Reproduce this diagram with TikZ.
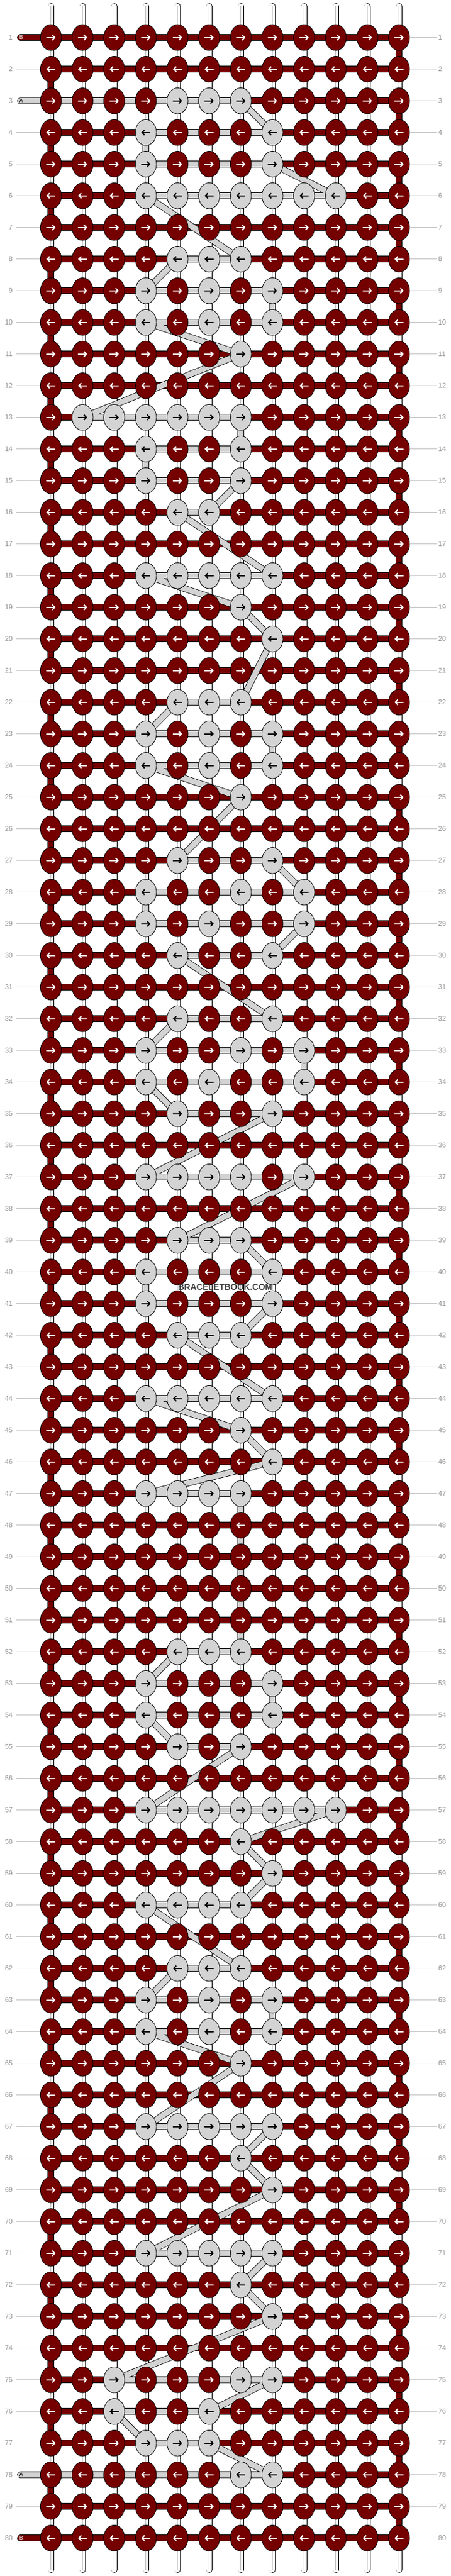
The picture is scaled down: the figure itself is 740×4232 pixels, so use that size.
\documentclass[tikz,border=0pt]{standalone}
\usepackage{fontspec}
\setmainfont{Liberation Sans}
\usetikzlibrary{shapes.geometric,arrows.meta}
\definecolor{maroonc}{RGB}{116,0,0}
\definecolor{grayc}{RGB}{211,211,211}
\definecolor{labgray}{RGB}{150,150,150}
\definecolor{linegray}{RGB}{195,195,195}
\definecolor{tubegray}{RGB}{185,185,185}
\definecolor{wmgray}{RGB}{60,60,60}
\pgfdeclarelayer{back}
\pgfsetlayers{back,main}
\tikzset{
 knotm/.style={ellipse, draw=black, line width=0.8pt, fill=maroonc, minimum width=34.6pt, minimum height=42.6pt, inner sep=0pt},
 knotg/.style={knotm, fill=grayc},
 bstr/.style={draw=black, line width=0.85pt, double=maroonc, double distance=9pt, line join=round, line cap=round},
 astr/.style={draw=black, line width=0.85pt, double=grayc, double distance=9pt, line join=round, line cap=round},
 tube/.style={draw=black, line width=0.85pt, double=white, double distance=8.6pt, line cap=round},
 tubemid/.style={draw=tubegray, line width=0.8pt},
 lbl/.style={font=\fontsize{11.5}{12}\selectfont, text=labgray, inner sep=0pt},
 lblline/.style={draw=linegray, line width=0.9pt},
 arr/.style={line width=2pt, -{Straight Barb[length=4pt,width=8.5pt]}},
 endlbl/.style={font=\fontsize{9}{9}\selectfont, inner sep=0pt},
}
\begin{document}
\begin{tikzpicture}[x=1pt,y=-1pt]
\useasboundingbox (0,0) rectangle (740,4232);
% gray knots
\foreach \r/\cs in {3/{5,6,7},4/{4,8},5/{4,8},6/{4,5,6,7,8,9,10},8/{5,6,7},9/{4,6,8},10/{4,6,8},11/{7},13/{2,3,4,5,6,7},14/{4,7},15/{4,7},16/{5,6},18/{4,5,6,7,8},19/{7},20/{8},22/{5,6,7},23/{4,6,8},24/{4,6,8},25/{7},27/{5,8},28/{4,7,9},29/{4,6,9},30/{5,8},32/{5,8},33/{4,7,9},34/{4,6,9},35/{5,8},37/{4,5,6,7,9},39/{5,6,7},40/{4,8},41/{4,8},42/{5,6,7},44/{4,5,6,7,8},45/{7},46/{8},47/{4,5,6,7},52/{5,6,7},53/{4,8},54/{4,8},55/{5,7},57/{4,5,6,7,8,9,10},58/{7},59/{8},60/{4,5,6,7},62/{5,6,7},63/{4,6,8},64/{4,6,8},65/{7},67/{4,5,6,7,8},68/{7},69/{8},71/{4,5,6,7,8},72/{7},73/{8},75/{3,7,8},76/{3,6},77/{4,5,6},78/{7,8}}
 {\foreach \c in \cs {\expandafter\xdef\csname gk-\r-\c\endcsname{1}}}
% knots
\foreach \r in {1,...,80} {
 \pgfmathsetmacro\yy{61.7+52*(\r-1)}
 \foreach \c in {1,...,12} {
  \pgfmathsetmacro\xx{83.7+52*(\c-1)}
  \ifcsname gk-\r-\c\endcsname
   \node[knotg] (k-\r-\c) at (\xx,\yy) {};
   \def\acol{black}
  \else
   \node[knotm] (k-\r-\c) at (\xx,\yy) {};
   \def\acol{white}
  \fi
  \ifodd\r
   \draw[arr,draw=\acol] ([xshift=-7.5pt]k-\r-\c.center) -- ([xshift=7.5pt]k-\r-\c.center);
  \else
   \draw[arr,draw=\acol] ([xshift=7.5pt]k-\r-\c.center) -- ([xshift=-7.5pt]k-\r-\c.center);
  \fi
 }
}
% labels
\foreach \r in {1,...,80} {
 \pgfmathsetmacro\yy{61.7+52*(\r-1)}
 \node[lbl,anchor=east] (ll-\r) at (21,\yy) {\r};
 \node[lbl,anchor=west] (lr-\r) at (720,\yy) {\r};
 \draw[lblline] (k-\r-12) -- ([xshift=-2pt]lr-\r.west);
}
\foreach \r in {2,4,5,...,77,79} {
 \draw[lblline] ([xshift=5pt]ll-\r.east) -- (k-\r-1);
}
% string ends
\coordinate (bS) at (33.5,61.7);
\coordinate (bE) at (33.5,4169.7);
\coordinate (aS) at (33.5,165.7);
\coordinate (aE) at (33.5,4065.7);
\node[endlbl,text=white] (bl1) at (35,61.7) {B};
\node[endlbl,text=black] (al1) at (35,165.7) {A};
\node[endlbl,text=black] (al2) at (35,4065.7) {A};
\node[endlbl,text=white] (bl2) at (35,4169.7) {B};
% watermark
\node[font=\bfseries\fontsize{14}{14}\selectfont, text=wmgray, inner sep=0pt] (wm) at (370,2115) {BRACELETBOOK.COM};
% strings behind
\begin{pgfonlayer}{back}
 \fill[white] (0,0) rectangle (740,4232);
 \foreach \c in {1,...,12} {
  \pgfmathsetmacro\xx{83.7+52*(\c-1)}
  \coordinate (tt-\c) at (\xx,10.3);
  \coordinate (tb-\c) at (\xx,4221.7);
  \draw[tube] (tt-\c) -- (tb-\c);
  \draw[tubemid] (tt-\c) -- (tb-\c);
 }
 \draw[bstr] (bS) \foreach \r [evaluate=\r as \ca using {int(1+11*mod(\r+1,2))}, evaluate=\r as \cb using {int(12-11*mod(\r+1,2))}] in {1,...,80} { -- (k-\r-\ca.center) -- (k-\r-\cb.center) } -- (bE);
 \draw[astr] (aS) \foreach \r/\c in {3/7,4/8,4/4,5/4,5/8,6/10,6/4,8/7,8/5,9/4,9/8,10/8,10/4,11/7,13/2,13/7,14/7,14/4,15/4,15/7,16/6,16/5,18/8,18/4,19/7,20/8,22/7,22/5,23/4,23/8,24/8,24/4,25/7,27/5,27/8,28/9,28/4,29/4,29/9,30/8,30/5,32/8,32/5,33/4,33/9,34/9,34/4,35/5,35/8,37/4,37/9,39/5,39/7,40/8,40/4,41/4,41/8,42/7,42/5,44/8,44/4,45/7,46/8,47/4,47/7,52/7,52/5,53/4,53/8,54/8,54/4,55/5,55/7,57/4,57/10,58/7,59/8,60/7,60/4,62/7,62/5,63/4,63/8,64/8,64/4,65/7,67/4,67/8,68/7,69/8,71/4,71/8,72/7,73/8,75/3,75/8,76/6,76/3,77/4,77/6,78/8} { -- (k-\r-\c.center) } -- (aE);
\end{pgfonlayer}
\end{tikzpicture}
\end{document}
